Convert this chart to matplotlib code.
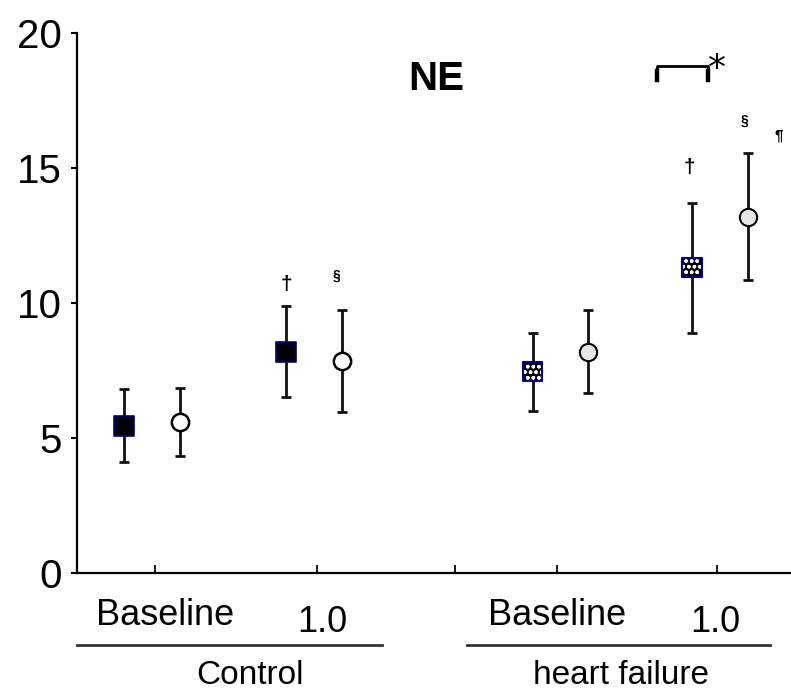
import matplotlib
matplotlib.use("Agg")
import matplotlib.pyplot as plt
import matplotlib.transforms as mtransforms

plt.rcParams['font.family'] = ['Liberation Sans', 'DejaVu Sans']

# ---- data ----
conditions = ["Baseline", "1.0", "Baseline", "1.0"]
groups = ["Control", "heart failure"]
group_centers = [0.985, 1.99, 3.52, 4.51]
square_vals = [5.45, 8.2, 7.45, 11.3]
square_err = [1.35, 1.7, 1.45, 2.4]
circle_vals = [5.6, 7.85, 8.2, 13.2]
circle_err = [1.25, 1.9, 1.55, 2.35]
yticks = [0, 5, 10, 15, 20]
title = "NE"

fig = plt.figure(figsize=(7.91, 6.90), dpi=100)
ax = fig.add_axes([0.0973, 0.1696, 0.9027, 0.7826])
ax.set_xlim(0.516, 4.95)
ax.set_ylim(0, 20)

sq_x = [c - 0.175 for c in group_centers]
ci_x = [c + 0.17 for c in group_centers]

# error bars
ax.errorbar(sq_x, square_vals, yerr=square_err, fmt='none', ecolor='#111111',
            elinewidth=2, capsize=3.5, capthick=2, zorder=2)
ax.errorbar(ci_x, circle_vals, yerr=circle_err, fmt='none', ecolor='#111111',
            elinewidth=2, capsize=3.5, capthick=2, zorder=2)

SQ = 190
CI = 155
# control squares: black with navy edge
ax.scatter(sq_x[:2], square_vals[:2], marker='s', s=SQ, facecolor='black',
           edgecolor='#000080', linewidth=1.2, zorder=3)
# HF squares: checkered (black with white dots)
ax.scatter(sq_x[2:], square_vals[2:], marker='s', s=SQ, facecolor='black',
           edgecolor='white', hatch='ooo', linewidth=0, zorder=3)
ax.scatter(sq_x[2:], square_vals[2:], marker='s', s=SQ, facecolor='none',
           edgecolor='#000080', linewidth=1.5, zorder=4)
# control circles: white
ax.scatter(ci_x[:2], circle_vals[:2], marker='o', s=CI, facecolor='white',
           edgecolor='black', linewidth=1.8, zorder=3)
# HF circles: light dotted grey
ax.scatter(ci_x[2:], circle_vals[2:], marker='o', s=CI, facecolor='#e6e6e6',
           edgecolor='black', linewidth=1.5, zorder=3)

# spines / ticks
for s in ['top', 'right']:
    ax.spines[s].set_visible(False)
ax.spines['left'].set_linewidth(1.6)
ax.spines['bottom'].set_linewidth(1.6)
ax.set_yticks(yticks)
ax.set_yticklabels([str(v) for v in yticks], fontsize=29)
ax.tick_params(axis='y', direction='out', length=4, width=1.5, pad=7)
ax.set_xticks([1, 2.006, 2.863, 3.497, 4.49])
ax.set_xticklabels([])
ax.tick_params(axis='x', direction='in', length=6, width=1.3)

# category labels
trans = mtransforms.blended_transform_factory(ax.transData, ax.transAxes)
label_x = [1.06, 2.04, 3.50, 4.48]
label_y = [-0.078, -0.091, -0.078, -0.091]
for lx, ly, t in zip(label_x, label_y, conditions):
    ax.text(lx, ly, t, transform=trans, ha='center', va='center', fontsize=26)

# group underlines and labels
line_spans = [(0.516, 2.41), (2.94, 4.82)]
group_x = [1.59, 3.894]
for (x0, x1), gx, g in zip(line_spans, group_x, groups):
    ax.plot([x0, x1], [-0.133, -0.133], transform=trans, color='#333333',
            lw=2, clip_on=False)
    ax.text(gx, -0.19, g, transform=trans, ha='center', va='center',
            fontsize=24)

# title
ax.text(2.75, 18.3, title, ha='center', va='center', fontsize=29,
        fontweight='bold')

# significance marks
ax.text(1.814, 10.67, "†", ha='center', va='center', fontsize=15, fontweight='bold')
ax.text(2.13, 11.0, "§", ha='center', va='center', fontsize=10, fontweight='bold')
ax.text(4.32, 15.0, "†", ha='center', va='center', fontsize=15, fontweight='bold')
ax.text(4.66, 16.74, "§", ha='center', va='center', fontsize=10, fontweight='bold')
ax.text(4.876, 16.2, "¶", ha='center', va='center', fontsize=11, fontweight='bold')
ax.plot([4.118, 4.118, 4.435, 4.435], [18.26, 18.78, 18.78, 18.26],
        color='black', lw=2, clip_on=False)
ax.plot([4.118, 4.118], [18.26, 18.6], color='black', lw=3.2)
ax.plot([4.435, 4.435], [18.26, 18.6], color='black', lw=3.2)
ax.text(4.49, 18.65, "*", ha='center', va='center', fontsize=26,
        fontfamily='DejaVu Sans', color='black')

fig.savefig("out.png", dpi=100)
